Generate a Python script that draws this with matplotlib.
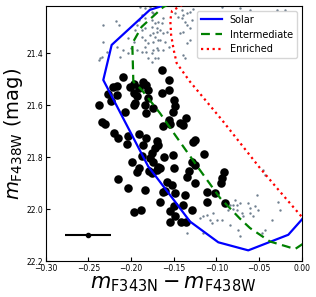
import numpy as np
import matplotlib
matplotlib.use('Agg')
import matplotlib.pyplot as plt

# Isochrone tracks (colour, magnitude)
solar_x = [-0.150, -0.160, -0.178, -0.2227, -0.2325, -0.180, -0.1485, -0.1309,
           -0.0977, -0.0626, -0.0157, 0.000, 0.010]
solar_y = [21.205, 21.214, 21.233, 21.368, 21.503, 21.835, 21.971, 22.048,
           22.128, 22.159, 22.099, 22.041, 22.00]
inter_x = [-0.155, -0.1622, -0.1875, -0.1985, -0.1973, -0.1875, -0.166, -0.1485,
           -0.1212, -0.0957, -0.0723, -0.0606, -0.0371, -0.0176, -0.0078, 0.000, 0.008]
inter_y = [21.21, 21.222, 21.298, 21.362, 21.509, 21.541, 21.631, 21.714,
           21.841, 21.957, 22.037, 22.073, 22.125, 22.144, 22.154, 22.137, 22.12]
enr_x = [-0.140, -0.152, -0.154, -0.153, -0.150, -0.1465, -0.131, -0.0934,
         -0.0489, -0.0254, -0.002, 0.0098]
enr_y = [21.214, 21.237, 21.272, 21.330, 21.387, 21.438, 21.509, 21.657,
         21.842, 21.933, 22.022, 22.064]

# Cluster members (black)
star_x = [-0.164, -0.156, -0.209, -0.217, -0.221, -0.201, -0.197, -0.191, -0.186, -0.182,
          -0.180, -0.227, -0.217, -0.197, -0.193, -0.164, -0.156, -0.150, -0.180, -0.238,
          -0.223, -0.197, -0.195, -0.184, -0.174, -0.148, -0.151, -0.207, -0.182, -0.234,
          -0.231, -0.162, -0.156, -0.154, -0.143, -0.139, -0.135, -0.220, -0.215, -0.203,
          -0.191, -0.183, -0.205, -0.186, -0.170, -0.168, -0.172, -0.127, -0.125, -0.176,
          -0.178, -0.187, -0.161, -0.151, -0.115, -0.174, -0.168, -0.199, -0.191, -0.150,
          -0.129, -0.125, -0.166, -0.193, -0.179, -0.176, -0.170, -0.132, -0.134, -0.125,
          -0.091, -0.093, -0.094, -0.158, -0.152, -0.148, -0.160, -0.215, -0.203, -0.184,
          -0.162, -0.137, -0.111, -0.102, -0.111, -0.090, -0.166, -0.150, -0.154, -0.139,
          -0.129, -0.154, -0.141, -0.136, -0.197, -0.188, -0.148]
star_y = [21.464, 21.503, 21.493, 21.525, 21.530, 21.530, 21.518, 21.535, 21.512, 21.522,
          21.541, 21.558, 21.562, 21.554, 21.563, 21.554, 21.541, 21.580, 21.573, 21.599,
          21.583, 21.599, 21.592, 21.599, 21.612, 21.605, 21.625, 21.626, 21.631, 21.663,
          21.673, 21.682, 21.657, 21.673, 21.669, 21.676, 21.650, 21.708, 21.727, 21.717,
          21.712, 21.725, 21.749, 21.755, 21.737, 21.753, 21.765, 21.740, 21.733, 21.785,
          21.802, 21.795, 21.798, 21.791, 21.788, 21.819, 21.838, 21.819, 21.842, 21.842,
          21.817, 21.830, 21.842, 21.859, 21.855, 21.862, 21.849, 21.855, 21.875, 21.900,
          21.858, 21.881, 21.900, 21.894, 21.909, 21.938, 21.932, 21.885, 21.919, 21.926,
          21.935, 21.945, 21.935, 21.938, 21.971, 21.977, 21.971, 21.990, 22.009, 21.983,
          22.003, 22.048, 22.048, 22.048, 22.013, 22.003, 22.028]

# Field stars (grey)
field_x = [-0.2325, -0.218, -0.214, -0.233, -0.2285, -0.236, -0.2335, -0.238, -0.217, -0.204,
           -0.209, -0.213, -0.203, -0.197, -0.200, -0.193, -0.1875, -0.182, -0.180, -0.176,
           -0.172, -0.1875, -0.1836, -0.1895, -0.1836, -0.178, -0.176, -0.1875, -0.1836, -0.191,
           -0.176, -0.172, -0.168, -0.164, -0.162, -0.166, -0.170, -0.174, -0.172, -0.178,
           -0.162, -0.158, -0.1836, -0.1875, -0.195, -0.193, -0.180, -0.174, -0.166, -0.160,
           -0.1836, -0.156, -0.168, -0.162, -0.174, -0.176, -0.170, -0.168, -0.174, -0.170,
           -0.176, -0.168, -0.1485, -0.1446, -0.1406, -0.1387, -0.1348, -0.1406, -0.131, -0.127,
           -0.1368, -0.1348, -0.131, -0.129, -0.1387, -0.131, -0.1348, -0.1368, -0.1387, -0.1426,
           -0.0937, -0.0723, -0.0606, -0.0293, -0.0196,
           -0.1348, -0.1192, -0.1153, -0.1113, -0.1075, -0.1055, -0.1153, -0.0996, -0.0937, -0.0840,
           -0.0879, -0.0840, -0.0801, -0.0755, -0.0860, -0.0801, -0.0782, -0.0723, -0.0755, -0.0703,
           -0.0626, -0.0606, -0.0606, -0.0684, -0.0527, -0.0547, -0.0508, -0.0567, -0.0743, -0.0723,
           -0.0430, -0.0469, -0.0254, -0.0274, -0.0352, -0.0430, -0.0450, -0.1036]
field_y = [21.291, 21.275, 21.291, 21.355, 21.394, 21.419, 21.413, 21.426, 21.375, 21.342,
           21.387, 21.413, 21.400, 21.355, 21.381, 21.387, 21.394, 21.394, 21.419, 21.432,
           21.419, 21.336, 21.349, 21.221, 21.227, 21.221, 21.240, 21.253, 21.265, 21.272,
           21.272, 21.285, 21.278, 21.285, 21.265, 21.310, 21.317, 21.323, 21.336, 21.330,
           21.323, 21.317, 21.304, 21.310, 21.310, 21.291, 21.362, 21.355, 21.349, 21.355,
           21.375, 21.375, 21.387, 21.387, 21.246, 21.298, 21.304, 21.349, 21.387, 21.381,
           21.400, 21.419, 21.246, 21.259, 21.265, 21.253, 21.246, 21.233, 21.240, 21.231,
           21.278, 21.291, 21.304, 21.272, 21.317, 21.349, 21.362, 21.419, 21.407, 21.323,
           21.222, 21.227, 21.233, 21.233, 21.233,
           22.092, 22.035, 22.028, 22.022, 22.041, 22.054, 22.092, 22.041, 22.041, 22.060,
           21.983, 21.983, 21.983, 21.983, 22.003, 22.000, 21.964, 21.977, 22.005, 22.015,
           21.975, 21.996, 22.015, 22.028, 21.945, 21.990, 22.003, 22.028, 22.080, 22.105,
           22.080, 22.092, 22.003, 21.971, 22.041, 21.868, 21.849, 22.015]

# Typical error
err_x, err_y, err_xerr = -0.25, 22.1, 0.027


fig = plt.figure(figsize=(3.16, 2.97), dpi=100)
ax = fig.add_axes([0.1446, 0.1212, 0.8101, 0.8586])

ax.scatter(field_x, field_y, s=3, color='slategray', lw=0, zorder=1)
ax.scatter(star_x, star_y, s=38, color='k', lw=0, zorder=2)
ax.plot(solar_x, solar_y, color='b', lw=1.6, label='Solar', zorder=3)
ax.plot(inter_x, inter_y, color='g', lw=1.6, ls=(0, (4, 2.5)), label='Intermediate', zorder=3)
ax.plot(enr_x, enr_y, color='r', lw=1.6, ls=(0, (1, 1.6)), label='Enriched', zorder=3)
ax.errorbar(err_x, err_y, xerr=err_xerr, fmt='o', color='k', ms=3, lw=1.5, capsize=0)

ax.set_xlim(-0.30, 0.0)
ax.set_ylim(22.2, 21.218)
ax.set_xticks(np.arange(-0.30, 0.001, 0.05))
ax.set_yticks([21.4, 21.6, 21.8, 22.0, 22.2])
ax.tick_params(direction='in', labelsize=5.5, pad=2, length=3)
ax.set_xlabel(r'$m_{\rm F343N} - m_{\rm F438W}$', fontsize=15, labelpad=1)
ax.set_ylabel(r'$m_{\rm F438W}$ (mag)', fontsize=14, labelpad=1)
ax.legend(loc='upper right', fontsize=7, borderaxespad=0.5, handlelength=2.2)

fig.savefig('out.png', dpi=100)
